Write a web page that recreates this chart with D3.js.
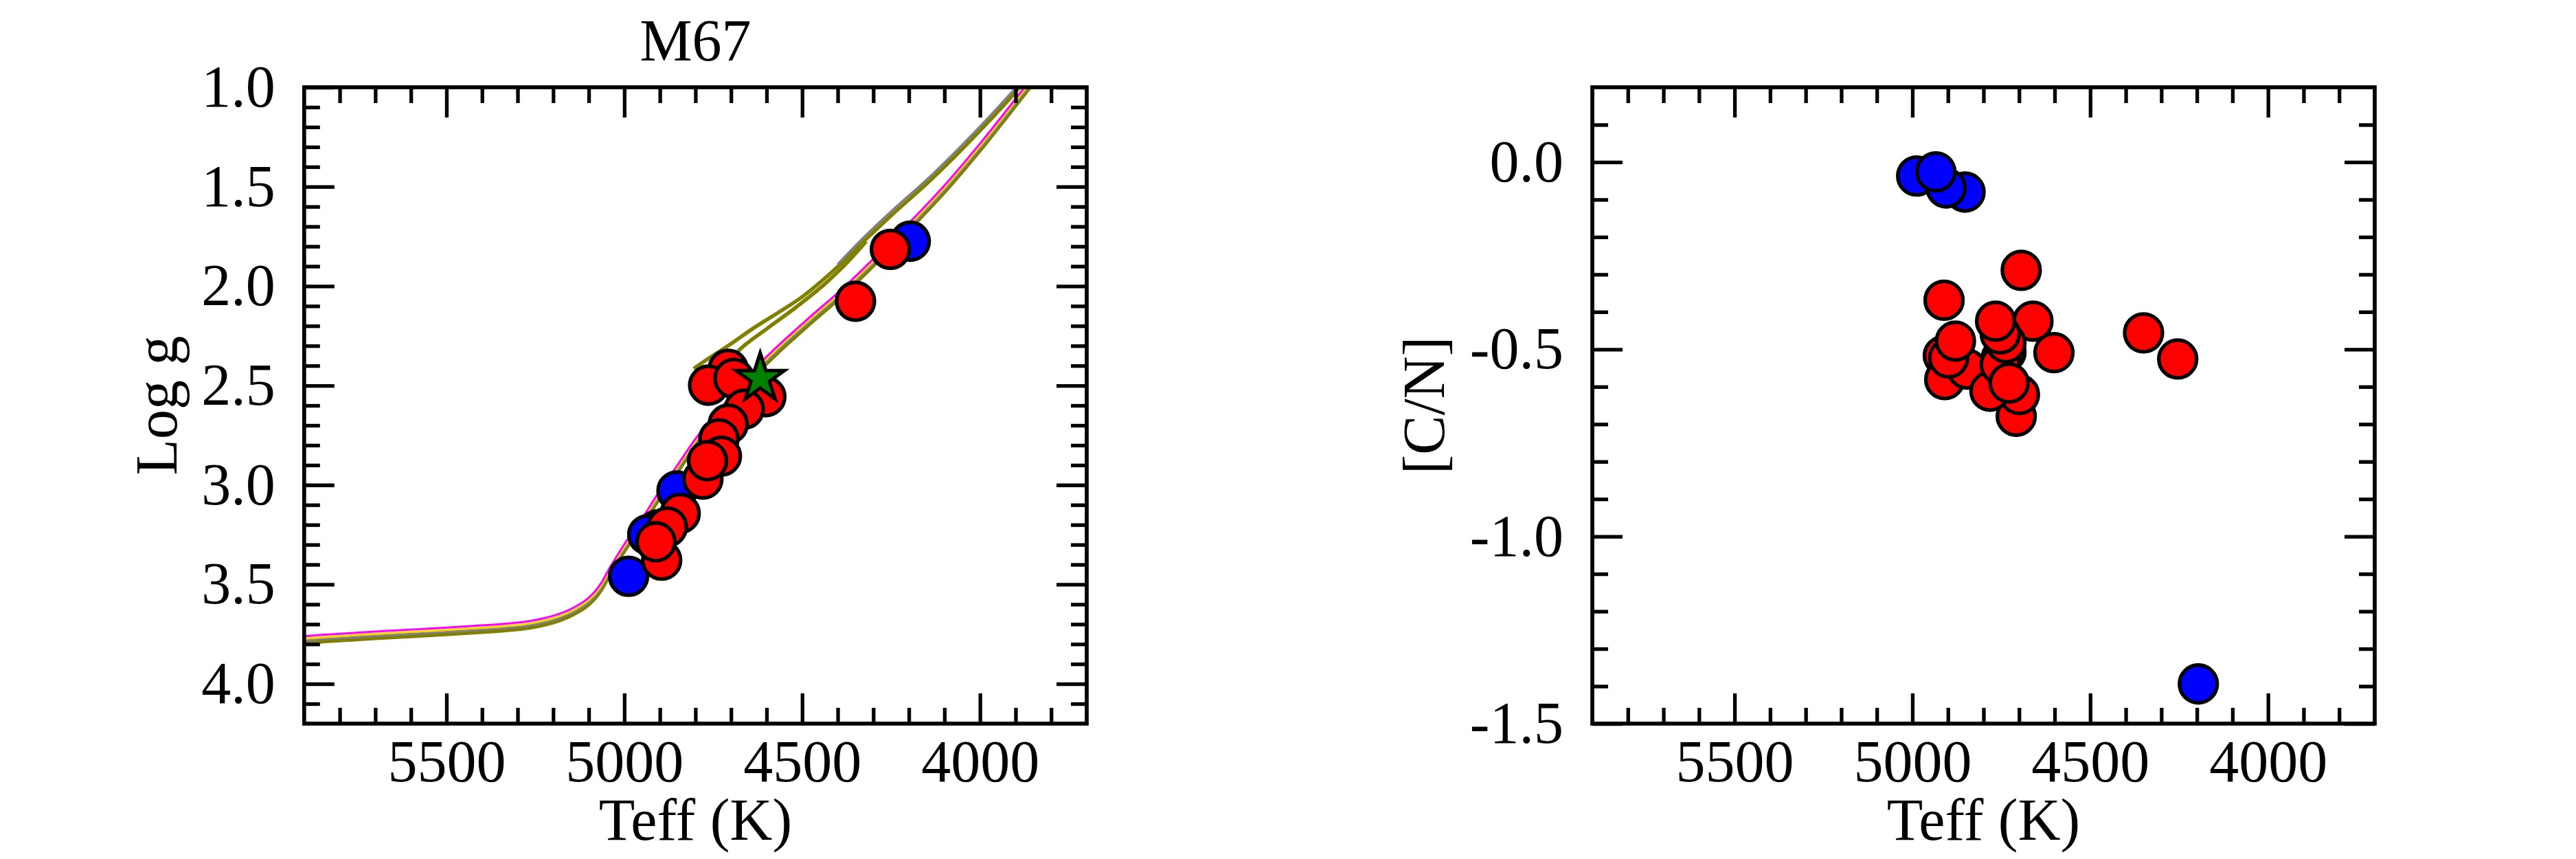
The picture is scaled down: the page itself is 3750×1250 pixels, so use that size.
<!DOCTYPE html>
<html>
<head>
<meta charset="utf-8">
<script src="https://cdn.jsdelivr.net/npm/d3@7"></script>
<style>
html,body{margin:0;padding:0;background:#ffffff;}
svg{display:block;}
</style>
</head>
<body>
<svg id="chart" width="3750" height="1250"></svg>
<script>
// ---------------- DATA ----------------
const teffMajor = [5500, 5000, 4500, 4000];
const teffLabels = ["5500", "5000", "4500", "4000"];
const loggMajor = [1.0, 1.5, 2.0, 2.5, 3.0, 3.5, 4.0];
const loggLabels = ["1.0", "1.5", "2.0", "2.5", "3.0", "3.5", "4.0"];
const cnMajor = [0.0, -0.5, -1.0, -1.5];
const cnLabels = ["0.0", "-0.5", "-1.0", "-1.5"];

// Isochrones (SGB + RGB), common Teff grid
const isoTeff = [5900, 5800, 5700, 5600, 5500, 5400, 5300, 5250, 5200, 5160, 5130, 5105, 5085, 5065, 5040, 5000, 4950, 4900, 4850, 4800, 4750, 4700, 4640, 4570, 4480, 4390, 4300, 4200, 4100, 4000, 3900, 3850];
const isoLoggOlive   = [3.792, 3.780, 3.769, 3.759, 3.749, 3.738, 3.724, 3.711, 3.690, 3.664, 3.636, 3.606, 3.572, 3.525, 3.445, 3.330, 3.200, 3.060, 2.930, 2.800, 2.690, 2.585, 2.460, 2.335, 2.190, 2.050, 1.895, 1.715, 1.525, 1.315, 1.090, 0.975];
const isoLoggGray    = [3.782, 3.770, 3.759, 3.749, 3.739, 3.728, 3.714, 3.701, 3.680, 3.654, 3.626, 3.596, 3.562, 3.515, 3.435, 3.320, 3.190, 3.050, 2.920, 2.790, 2.680, 2.575, 2.450, 2.325, 2.180, 2.040, 1.885, 1.705, 1.515, 1.305, 1.080, 0.965];
const isoLoggGold    = [3.772, 3.760, 3.749, 3.739, 3.729, 3.718, 3.704, 3.691, 3.670, 3.644, 3.616, 3.586, 3.552, 3.505, 3.425, 3.310, 3.180, 3.040, 2.910, 2.780, 2.670, 2.565, 2.440, 2.315, 2.170, 2.030, 1.875, 1.695, 1.505, 1.295, 1.070, 0.955];
const isoLoggMagenta = [3.760, 3.748, 3.737, 3.727, 3.717, 3.706, 3.692, 3.679, 3.658, 3.632, 3.604, 3.574, 3.540, 3.493, 3.413, 3.298, 3.168, 3.028, 2.898, 2.768, 2.658, 2.553, 2.428, 2.303, 2.158, 2.018, 1.863, 1.683, 1.493, 1.283, 1.058, 0.943];

// Upper (post-clump) branches
const agbTeff1 = [4805, 4760, 4700, 4640, 4560, 4497, 4420, 4330, 4250, 4141, 4050, 3980, 3911, 3870];
const agbLogg1 = [2.415, 2.360, 2.290, 2.215, 2.125, 2.050, 1.935, 1.780, 1.645, 1.470, 1.310, 1.180, 1.046, 0.960];
const agbTeff2 = [4730, 4676, 4600, 4520, 4440, 4370, 4320];
const agbLogg2 = [2.450, 2.320, 2.215, 2.110, 1.995, 1.875, 1.775];
const agbTeffGray = [4400, 4330, 4250, 4141, 4050, 3980, 3911, 3880];
const agbLoggGray = [1.890, 1.760, 1.625, 1.450, 1.290, 1.160, 1.026, 0.965];

// Left panel stars (Teff, log g)
const blueTeffL = [4988, 4852, 4905, 4934, 4196];
const blueLoggL = [3.459, 3.030, 3.225, 3.250, 1.774];
const redTeffL = [4252, 4350, 4602, 4708, 4763, 4692, 4663, 4708, 4734, 4727, 4779, 4766, 4843, 4879, 4895, 4911];
const redLoggL = [1.815, 2.076, 2.556, 2.418, 2.498, 2.464, 2.619, 2.694, 2.768, 2.855, 2.970, 2.878, 3.143, 3.211, 3.378, 3.286];
const starTeff = [4618];
const starLogg = [2.464];

// Right panel stars (Teff, [C/N])
const blueTeffR = [4988, 4852, 4905, 4934, 4196];
const blueCNR = [-0.037, -0.080, -0.069, -0.026, -1.394];
const redTeffR = [4254, 4350, 4694, 4911, 4602, 4661, 4913, 4909, 4846, 4898, 4879, 4708, 4699, 4782, 4737, 4750, 4753, 4737, 4753, 4728, 4766];
const redCNR = [-0.526, -0.456, -0.289, -0.369, -0.509, -0.425, -0.517, -0.581, -0.553, -0.523, -0.478, -0.679, -0.621, -0.612, -0.508, -0.523, -0.541, -0.483, -0.459, -0.590, -0.425];

// ---------------- LAYOUT ----------------
const FONT = '"Liberation Serif", "Times New Roman", Times, serif';
const FS = 86;
const Y0 = 127, Y1 = 1053;
const panels = [
  {x0: 442.8, x1: 1582, id: "L"},
  {x0: 2318, x1: 3457, id: "R"}
];
const svg = d3.select("#chart");
const zip = (a, b) => a.map((v, i) => [v, b[i]]);

function drawAxes(g, x, y, yMajor, yLabels, yMinor, p) {
  const teffMinor = d3.range(3800, 5801, 100).filter(v => !teffMajor.includes(v));
  const specs = [
    {ax: d3.axisBottom(x).tickValues(teffMajor).tickFormat((d, i) => teffLabels[i]).tickSizeInner(-44).tickSizeOuter(0).tickPadding(23), t: `translate(0,${Y1})`},
    {ax: d3.axisBottom(x).tickValues(teffMinor).tickFormat(() => "").tickSizeInner(-23).tickSizeOuter(0), t: `translate(0,${Y1})`},
    {ax: d3.axisTop(x).tickValues(teffMajor).tickFormat(() => "").tickSizeInner(-44).tickSizeOuter(0), t: `translate(0,${Y0})`},
    {ax: d3.axisTop(x).tickValues(teffMinor).tickFormat(() => "").tickSizeInner(-23).tickSizeOuter(0), t: `translate(0,${Y0})`},
    {ax: d3.axisLeft(y).tickValues(yMajor).tickFormat((d, i) => yLabels[i]).tickSizeInner(-44).tickSizeOuter(0).tickPadding(42), t: `translate(${p.x0},0)`},
    {ax: d3.axisLeft(y).tickValues(yMinor).tickFormat(() => "").tickSizeInner(-23).tickSizeOuter(0), t: `translate(${p.x0},0)`},
    {ax: d3.axisRight(y).tickValues(yMajor).tickFormat(() => "").tickSizeInner(-44).tickSizeOuter(0), t: `translate(${p.x1},0)`},
    {ax: d3.axisRight(y).tickValues(yMinor).tickFormat(() => "").tickSizeInner(-23).tickSizeOuter(0), t: `translate(${p.x1},0)`}
  ];
  specs.forEach(s => {
    const a = g.append("g").attr("transform", s.t).call(s.ax);
    a.select(".domain").remove();
    a.attr("font-size", FS).attr("font-family", FONT).attr("color", "#000");
    a.selectAll(".tick line").attr("stroke", "#000").attr("stroke-width", 5.3);
    a.selectAll(".tick text").attr("fill", "#000");
  });
}

// ---------------- LEFT PANEL ----------------
{
  const p = panels[0];
  const x = d3.scaleLinear().domain([5900, 3700]).range([p.x0, p.x1]);
  const y = d3.scaleLinear().domain([1.0, 4.2]).range([Y0, Y1]);
  const g = svg.append("g");
  g.append("clipPath").attr("id", "clipL").append("rect")
    .attr("x", p.x0).attr("y", Y0).attr("width", p.x1 - p.x0).attr("height", Y1 - Y0);
  const line = d3.line().x(d => x(d[0])).y(d => y(d[1])).curve(d3.curveCatmullRom.alpha(0.5));
  const lg = g.append("g").attr("clip-path", "url(#clipL)").attr("fill", "none").attr("stroke-linejoin", "round");

  lg.append("path").attr("d", line(zip(isoTeff, isoLoggOlive))).attr("stroke", "#808000").attr("stroke-width", 6.5);
  lg.append("path").attr("d", line(zip(isoTeff, isoLoggGray))).attr("stroke", "#808080").attr("stroke-width", 3.3);
  lg.append("path").attr("d", line(zip(isoTeff, isoLoggGold))).attr("stroke", "#ffd700").attr("stroke-width", 3);
  lg.append("path").attr("d", line(zip(isoTeff, isoLoggMagenta))).attr("stroke", "#ff00ff").attr("stroke-width", 3);
  lg.append("path").attr("d", line(zip(agbTeff1, agbLogg1))).attr("stroke", "#808000").attr("stroke-width", 5.5);
  lg.append("path").attr("d", line(zip(agbTeff2, agbLogg2))).attr("stroke", "#808000").attr("stroke-width", 5.5);
  lg.append("path").attr("d", line(zip(agbTeffGray, agbLoggGray))).attr("stroke", "#808080").attr("stroke-width", 3.5);

  const pg = g.append("g").attr("clip-path", "url(#clipL)");
  pg.selectAll("circle.b").data(zip(blueTeffL, blueLoggL)).join("circle")
    .attr("cx", d => x(d[0])).attr("cy", d => y(d[1])).attr("r", 27.5)
    .attr("fill", "#0000ff").attr("stroke", "#000").attr("stroke-width", 5.3);
  pg.selectAll("circle.r").data(zip(redTeffL, redLoggL)).join("circle")
    .attr("cx", d => x(d[0])).attr("cy", d => y(d[1])).attr("r", 27.5)
    .attr("fill", "#ff0000").attr("stroke", "#000").attr("stroke-width", 5.3);
  pg.selectAll("path.star").data(zip(starTeff, starLogg)).join("path")
    .attr("d", d3.symbol(d3.symbolStar, 1540))
    .attr("transform", d => `translate(${x(d[0])},${y(d[1])})`)
    .attr("fill", "#008000").attr("stroke", "#000").attr("stroke-width", 5);

  drawAxes(g, x, y, loggMajor, loggLabels, d3.range(11, 42).filter(v => v % 5 !== 0).map(v => v / 10), p);

  g.append("rect").attr("x", p.x0).attr("y", Y0).attr("width", p.x1 - p.x0).attr("height", Y1 - Y0)
    .attr("fill", "none").attr("stroke", "#000").attr("stroke-width", 5.7);

  g.append("text").attr("x", (p.x0 + p.x1) / 2).attr("y", 88).attr("text-anchor", "middle")
    .attr("font-family", FONT).attr("font-size", FS).text("M67");
  g.append("text").attr("x", (p.x0 + p.x1) / 2).attr("y", 1222).attr("text-anchor", "middle")
    .attr("font-family", FONT).attr("font-size", FS).text("Teff (K)");
  g.append("text").attr("transform", `translate(257,${(Y0 + Y1) / 2}) rotate(-90)`).attr("text-anchor", "middle")
    .attr("font-family", FONT).attr("font-size", FS).text("Log g");
}

// ---------------- RIGHT PANEL ----------------
{
  const p = panels[1];
  const x = d3.scaleLinear().domain([5900, 3700]).range([p.x0, p.x1]);
  const y = d3.scaleLinear().domain([0.2, -1.5]).range([Y0, Y1]);
  const g = svg.append("g");
  g.append("clipPath").attr("id", "clipR").append("rect")
    .attr("x", p.x0).attr("y", Y0).attr("width", p.x1 - p.x0).attr("height", Y1 - Y0);
  const pg = g.append("g").attr("clip-path", "url(#clipR)");
  pg.selectAll("circle.b").data(zip(blueTeffR, blueCNR)).join("circle")
    .attr("cx", d => x(d[0])).attr("cy", d => y(d[1])).attr("r", 27.5)
    .attr("fill", "#0000ff").attr("stroke", "#000").attr("stroke-width", 5.3);
  pg.selectAll("circle.r").data(zip(redTeffR, redCNR)).join("circle")
    .attr("cx", d => x(d[0])).attr("cy", d => y(d[1])).attr("r", 27.5)
    .attr("fill", "#ff0000").attr("stroke", "#000").attr("stroke-width", 5.3);

  drawAxes(g, x, y, cnMajor, cnLabels, d3.range(-14, 2).filter(v => v % 5 !== 0).map(v => v / 10), p);

  g.append("rect").attr("x", p.x0).attr("y", Y0).attr("width", p.x1 - p.x0).attr("height", Y1 - Y0)
    .attr("fill", "none").attr("stroke", "#000").attr("stroke-width", 5.7);

  g.append("text").attr("x", (p.x0 + p.x1) / 2).attr("y", 1222).attr("text-anchor", "middle")
    .attr("font-family", FONT).attr("font-size", FS).text("Teff (K)");
  g.append("text").attr("transform", `translate(2102,${(Y0 + Y1) / 2}) rotate(-90)`).attr("text-anchor", "middle")
    .attr("font-family", FONT).attr("font-size", FS).text("[C/N]");
}
</script>
</body>
</html>
